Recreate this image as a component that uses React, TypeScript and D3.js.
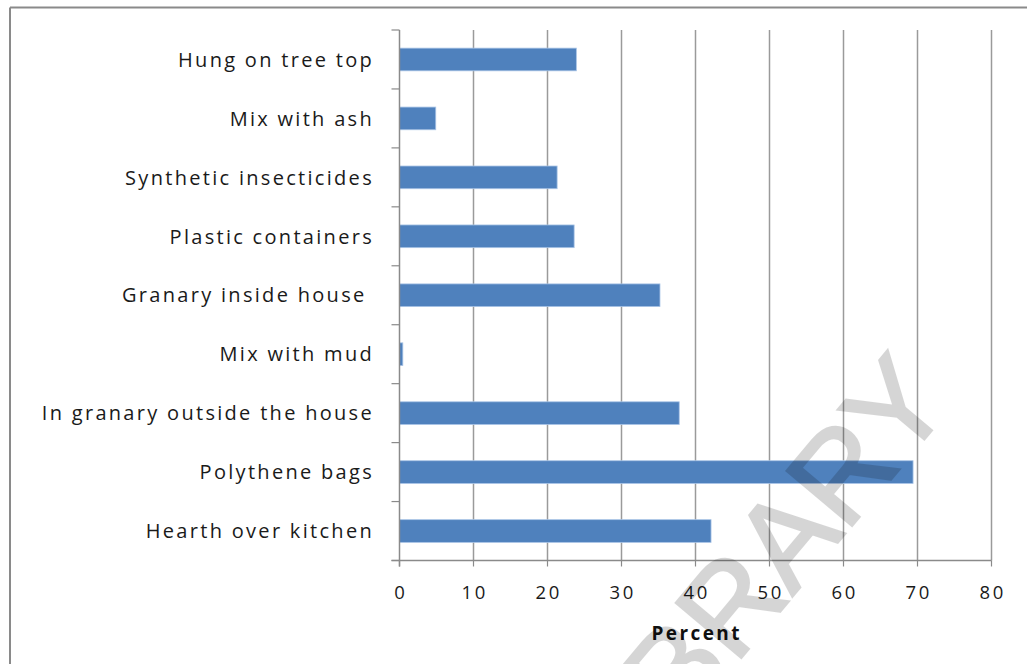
import React from "react";
import * as d3 from "d3";

// Storage methods and share of respondents using each (percent)
const categories = [
  "Hung on tree top",
  "Mix with ash",
  "Synthetic insecticides",
  "Plastic containers",
  "Granary inside house\u00a0",
  "Mix with mud",
  "In granary outside the house",
  "Polythene bags",
  "Hearth over kitchen",
];
const percents = [23.9, 4.9, 21.3, 23.6, 35.2, 0.45, 37.8, 69.4, 42.1];
const xTicks = [0, 10, 20, 30, 40, 50, 60, 70, 80];
const xTitle = "Percent";
const watermark = "LIBRARY";

const W = 1027;
const H = 664;
const plot = { left: 399.5, right: 991.5, top: 30, bottom: 560.5 };
const labelFont = "'Open Sans', 'DejaVu Sans', sans-serif";

export default function App() {
  const x = d3.scaleLinear().domain([0, 80]).range([plot.left, plot.right]);
  const y = d3
    .scaleBand<string>()
    .domain(categories)
    .range([plot.top, plot.bottom])
    .paddingInner(0.615)
    .paddingOuter(0.3075);
  const band = (plot.bottom - plot.top) / categories.length;
  const boundaries = d3.range(categories.length + 1).map((i) => plot.top + i * band);

  return (
    <svg
      width={W}
      height={H}
      viewBox={`0 0 ${W} ${H}`}
      style={{ position: "fixed", left: 0, top: 0, background: "#fff" }}
    >
      <rect x={0} y={0} width={W} height={H} fill="#fff" />
      {/* outer frame */}
      <line x1={10} y1={7.5} x2={W} y2={7.5} stroke="#8a8a8a" strokeWidth={2} />
      <line x1={10} y1={7.5} x2={10} y2={H} stroke="#8a8a8a" strokeWidth={2} />

      {/* vertical gridlines */}
      {xTicks.slice(1).map((t) => (
        <line
          key={"g" + t}
          x1={x(t)}
          x2={x(t)}
          y1={plot.top}
          y2={plot.bottom}
          stroke="#9a9a9a"
          strokeWidth={1.5}
        />
      ))}

      {/* bars */}
      {categories.map((c, i) => (
        <rect
          key={c}
          x={x(0)}
          y={y(c)}
          width={x(percents[i]) - x(0)}
          height={y.bandwidth()}
          fill="#4f81bd"
          stroke="#a9c4e6"
          strokeWidth={0.8}
        />
      ))}

      {/* category axis */}
      <line x1={plot.left} x2={plot.left} y1={plot.top} y2={plot.bottom + 6} stroke="#8a8a8a" strokeWidth={1.5} />
      {boundaries.map((b, i) => (
        <line key={"yt" + i} x1={plot.left - 8} x2={plot.left} y1={b} y2={b} stroke="#8a8a8a" strokeWidth={1.2} />
      ))}
      {categories.map((c) => (
        <text
          key={"l" + c}
          x={plot.left - 25.5}
          y={(y(c) as number) + y.bandwidth() / 2}
          dy="0.36em"
          textAnchor="end"
          fontFamily={labelFont}
          fontSize={20}
          letterSpacing={2.3}
          fill="#1a1a1a"
        >
          {c}
        </text>
      ))}

      {/* value axis */}
      <line x1={plot.left - 8} x2={plot.right} y1={plot.bottom} y2={plot.bottom} stroke="#8a8a8a" strokeWidth={1.5} />
      {xTicks.map((t) => (
        <line key={"xt" + t} x1={x(t)} x2={x(t)} y1={plot.bottom} y2={plot.bottom + 6} stroke="#8a8a8a" strokeWidth={1.2} />
      ))}
      {xTicks.map((t) => (
        <text
          key={"xl" + t}
          x={x(t) + 1.2}
          y={599}
          textAnchor="middle"
          fontFamily={labelFont}
          fontSize={18.5}
          letterSpacing={2.5}
          fill="#1a1a1a"
        >
          {t}
        </text>
      ))}
      <text
        x={(plot.left + plot.right) / 2 + 1.2}
        y={640}
        textAnchor="middle"
        fontFamily={labelFont}
        fontSize={19}
        fontWeight="bold"
        letterSpacing={2.4}
        fill="#111"
      >
        {xTitle}
      </text>

      {/* diagonal watermark */}
      <g opacity={0.16}>
        <text
          x={752}
          y={578}
          transform="rotate(-50 752 578)"
          textAnchor="middle"
          dominantBaseline="central"
          fontFamily="'Liberation Sans', Arial, sans-serif"
          fontSize={124}
          fill="#000"
          stroke="#000"
          strokeWidth={2.5}
          strokeLinejoin="miter"
        >
          {watermark}
        </text>
      </g>
    </svg>
  );
}
